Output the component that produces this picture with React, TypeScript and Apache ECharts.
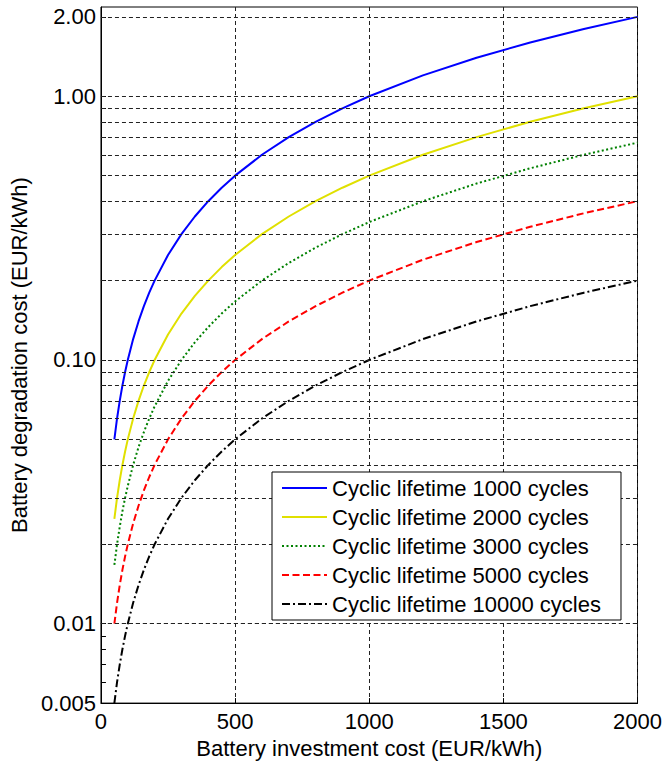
import React, { useEffect, useRef } from "react";
import * as echarts from "echarts";

const investCost = [50, 60, 70, 80, 90, 100, 120, 140, 160, 180, 200, 250, 300, 350, 400, 450, 500, 600, 700, 800, 900, 1000, 1200, 1400, 1600, 1800, 2000];

const cost1000 = [0.05, 0.06, 0.07, 0.08, 0.09, 0.1, 0.12, 0.14, 0.16, 0.18, 0.2, 0.25, 0.3, 0.35, 0.4, 0.45, 0.5, 0.6, 0.7, 0.8, 0.9, 1.0, 1.2, 1.4, 1.6, 1.8, 2.0];
const cost2000 = [0.025, 0.03, 0.035, 0.04, 0.045, 0.05, 0.06, 0.07, 0.08, 0.09, 0.1, 0.125, 0.15, 0.175, 0.2, 0.225, 0.25, 0.3, 0.35, 0.4, 0.45, 0.5, 0.6, 0.7, 0.8, 0.9, 1.0];
const cost3000 = [0.0167, 0.02, 0.0233, 0.0267, 0.03, 0.0333, 0.04, 0.0467, 0.0533, 0.06, 0.0667, 0.0833, 0.1, 0.1167, 0.1333, 0.15, 0.1667, 0.2, 0.2333, 0.2667, 0.3, 0.3333, 0.4, 0.4667, 0.5333, 0.6, 0.6667];
const cost5000 = [0.01, 0.012, 0.014, 0.016, 0.018, 0.02, 0.024, 0.028, 0.032, 0.036, 0.04, 0.05, 0.06, 0.07, 0.08, 0.09, 0.1, 0.12, 0.14, 0.16, 0.18, 0.2, 0.24, 0.28, 0.32, 0.36, 0.4];
const cost10000 = [0.005, 0.006, 0.007, 0.008, 0.009, 0.01, 0.012, 0.014, 0.016, 0.018, 0.02, 0.025, 0.03, 0.035, 0.04, 0.045, 0.05, 0.06, 0.07, 0.08, 0.09, 0.1, 0.12, 0.14, 0.16, 0.18, 0.2];

const seriesNames = [
  "Cyclic lifetime 1000 cycles",
  "Cyclic lifetime 2000 cycles",
  "Cyclic lifetime 3000 cycles",
  "Cyclic lifetime 5000 cycles",
  "Cyclic lifetime 10000 cycles",
];

const yTickValues = [0.005, 0.01, 0.1, 1, 2];
const yTickLabels = ["0.005", "0.01", "0.10", "1.00", "2.00"];
const yGridValues = [
  0.006, 0.007, 0.008, 0.009, 0.01,
  0.02, 0.03, 0.04, 0.05, 0.06, 0.07, 0.08, 0.09, 0.1,
  0.2, 0.3, 0.4, 0.5, 0.6, 0.7, 0.8, 0.9, 1, 2,
];

const FONT = "'Liberation Sans', Arial, Helvetica, sans-serif";

export default function App() {
  const ref = useRef<HTMLDivElement>(null);
  useEffect(() => {
    document.body.style.margin = "0";
    const chart = echarts.init(ref.current!, null, { renderer: "svg" });
    const allValues = [cost1000, cost2000, cost3000, cost5000, cost10000];
    const colors = ["#0000ff", "#e0e000", "#008000", "#ff0000", "#000000"];
    const dashes: any[] = ["solid", "solid", [2, 2.5], [7, 3.5], [8, 3, 2, 3]];
    const curves = allValues.map((vals, i) => ({
      name: seriesNames[i],
      type: "line",
      data: investCost.map((x, j) => [x, vals[j]]),
      symbol: "none",
      smooth: false,
      z: 3,
      lineStyle: { color: colors[i], width: 2, type: dashes[i] },
      itemStyle: { color: colors[i] },
    }));
    const gridSeries = {
      name: "grid",
      type: "line",
      data: [],
      z: 1,
      silent: true,
      markLine: {
        silent: true,
        symbol: "none",
        animation: false,
        label: { show: false },
        lineStyle: { color: "#222", width: 1, type: [4, 3] },
        data: yGridValues.map((v) => ({ yAxis: v })),
      },
    };
    chart.setOption({
      animation: false,
      textStyle: { fontFamily: FONT },
      grid: {
        left: 100,
        right: 26,
        top: 7,
        bottom: 58,
        show: true,
        borderColor: "#000",
        borderWidth: 1,
      },
      legend: {
        data: seriesNames,
        orient: "vertical",
        left: 272,
        top: 472,
        padding: [5, 20, 5, 9],
        itemGap: 7,
        itemWidth: 45,
        itemHeight: 14,
        backgroundColor: "#fff",
        borderColor: "#000",
        borderWidth: 1,
        itemStyle: { opacity: 0 },
        textStyle: { fontSize: 22, color: "#000", fontFamily: FONT },
        z: 10,
      },
      xAxis: {
        type: "value",
        min: 0,
        max: 2000,
        interval: 500,
        name: "Battery investment cost (EUR/kWh)",
        nameLocation: "middle",
        nameGap: 33,
        nameTextStyle: { fontSize: 22, color: "#000", fontFamily: FONT },
        axisLine: { show: true, lineStyle: { color: "#000", width: 1 } },
        axisTick: { show: true, inside: true, length: 5, lineStyle: { color: "#000" } },
        axisLabel: {
          fontSize: 22,
          color: "#000",
          margin: 7,
          fontFamily: FONT,
          formatter: (v: number) => String(v),
        },
        splitLine: { show: true, lineStyle: { color: "#222", width: 1, type: [4, 3] } },
      },
      yAxis: {
        type: "log",
        logBase: 10,
        min: 0.005,
        max: 2.18,
        name: "Battery degradation cost (EUR/kWh)",
        nameLocation: "middle",
        nameGap: 67,
        nameTextStyle: { fontSize: 22, color: "#000", fontFamily: FONT },
        axisLine: { show: true, lineStyle: { color: "#000", width: 1 } },
        axisTick: {
          show: true,
          inside: true,
          length: 5,
          customValues: yGridValues,
          lineStyle: { color: "#000" },
        },
        axisLabel: {
          fontSize: 22,
          color: "#000",
          margin: 5,
          fontFamily: FONT,
          customValues: yTickValues,
          showMinLabel: true,
          showMaxLabel: true,
          formatter: (v: number) => {
            let best = 0;
            for (let k = 0; k < yTickValues.length; k++) {
              if (Math.abs(Math.log10(yTickValues[k]) - Math.log10(v)) < Math.abs(Math.log10(yTickValues[best]) - Math.log10(v))) best = k;
            }
            return yTickLabels[best];
          },
        },
        splitLine: { show: false },
      },
      series: [gridSeries, ...curves],
    });
    return () => chart.dispose();
  }, []);
  return (
    <div
      ref={ref}
      style={{ position: "absolute", left: 0, top: 0, width: 665, height: 764 }}
    />
  );
}
